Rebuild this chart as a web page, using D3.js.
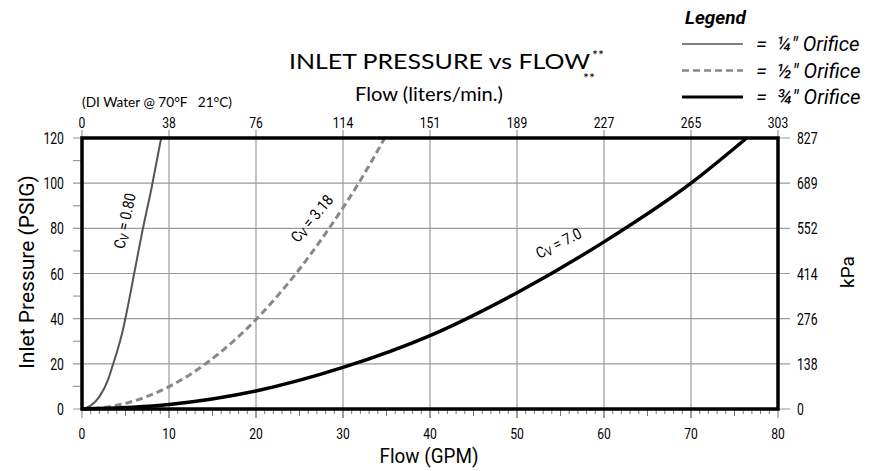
<!DOCTYPE html>
<html>
<head>
<meta charset="utf-8">
<script src="https://cdn.jsdelivr.net/npm/d3@7"></script>
<style>
  body { margin: 0; background: #fff; }
  .cond { font-family: "Roboto", "Liberation Sans", sans-serif; }
  .gill { font-family: "Lato", "Open Sans", sans-serif; }
</style>
</head>
<body>
<div id="graph"></div>
<script>
// Axis ticks
const gpmTicks = [0, 10, 20, 30, 40, 50, 60, 70, 80];
const lpmLabels = ["0", "38", "76", "114", "151", "189", "227", "265", "303"];
const psiTicks = [0, 20, 40, 60, 80, 100, 120];
const kpaLabels = ["0", "138", "276", "414", "552", "689", "827"];

// Curves: flow (GPM), pressure (PSIG)
const flowCv080 = [0, 1, 2, 3, 3.5, 4, 4.7, 5.3, 5.9, 6.9, 8, 9.1];
const psiCv080 = [0, 1.5, 5.5, 13, 19, 25, 35, 46, 58, 78, 98, 120];
const flowCv318 = [0, 2, 5, 10, 14.2, 17.4, 20.1, 22, 24.6, 28.4, 31.8, 34.8];
const psiCv318 = [0, 0.4, 2.5, 9.9, 20, 30, 40, 48, 60, 80, 100, 120];
const flowCv70 = [0, 10, 20, 30, 40, 50, 60, 70, 76.4];
const psiCv70 = [0, 2, 8, 18.4, 32.5, 51.5, 74, 100, 120];

const legendNames = ["¼", "½", "¾"];

// Chart constants
const w = 879;
const h = 471;

const svg = d3.select("#graph").append("svg")
    .attr("width", w)
    .attr("height", h);

const x = d3.scaleLinear().domain([0, 80]).range([82, 778]);
const y = d3.scaleLinear().domain([0, 120]).range([409, 138]);

// squeezed text (the original uses a condensed face)
const sq = (tx, ty, rot, sx) => `translate(${tx},${ty}) rotate(${rot}) scale(${sx},1)`;

// Gridlines (vertical), they stick out above and below the frame as ticks
svg.append("g")
    .attr("stroke", "#9a9a9a")
    .attr("stroke-width", 1.2)
    .selectAll("line")
    .data(gpmTicks.slice(1, -1))
    .join("line")
    .attr("x1", d => x(d)).attr("x2", d => x(d))
    .attr("y1", y(120) - 8).attr("y2", y(0) + 9);

// Gridlines (horizontal), sticking out left and right
svg.append("g")
    .attr("stroke", "#9a9a9a")
    .attr("stroke-width", 1.2)
    .selectAll("line")
    .data(psiTicks)
    .join("line")
    .attr("x1", x(0) - 9).attr("x2", x(80) + 12)
    .attr("y1", d => y(d)).attr("y2", d => y(d));

// Minor ticks on left side (every 10 PSIG)
svg.append("g")
    .attr("stroke", "#9a9a9a")
    .attr("stroke-width", 1.2)
    .selectAll("line")
    .data(d3.range(10, 120, 20))
    .join("line")
    .attr("x1", x(0) - 9).attr("x2", x(0))
    .attr("y1", d => y(d)).attr("y2", d => y(d));

// Minor ticks under bottom (every 1 GPM)
svg.append("g")
    .attr("stroke", "#777")
    .attr("stroke-width", 1)
    .selectAll("line")
    .data(d3.range(0, 81, 1))
    .join("line")
    .attr("x1", d => x(d)).attr("x2", d => x(d))
    .attr("y1", y(0))
    .attr("y2", d => y(0) + (d % 10 === 0 ? 9 : d % 5 === 0 ? 7 : 5));

// End ticks at 0 and 80 on top
svg.append("g")
    .attr("stroke", "#9a9a9a")
    .attr("stroke-width", 1.2)
    .selectAll("line")
    .data([0, 80])
    .join("line")
    .attr("x1", d => x(d)).attr("x2", d => x(d))
    .attr("y1", y(120) - 8).attr("y2", y(120));

// Curves
const line = d3.line()
    .x(d => x(d[0]))
    .y(d => y(d[1]))
    .curve(d3.curveMonotoneX);

svg.append("path")
    .datum(d3.zip(flowCv080, psiCv080))
    .attr("d", line)
    .attr("fill", "none")
    .attr("stroke", "#555")
    .attr("stroke-width", 2);

svg.append("path")
    .datum(d3.zip(flowCv318, psiCv318))
    .attr("d", line)
    .attr("fill", "none")
    .attr("stroke", "#888")
    .attr("stroke-width", 3)
    .attr("stroke-dasharray", "7,4");

svg.append("path")
    .datum(d3.zip(flowCv70, psiCv70))
    .attr("d", line)
    .attr("fill", "none")
    .attr("stroke", "#000")
    .attr("stroke-width", 3.5);

// Frame
svg.append("rect")
    .attr("x", x(0)).attr("y", y(120))
    .attr("width", x(80) - x(0)).attr("height", y(0) - y(120))
    .attr("fill", "none")
    .attr("stroke", "#000")
    .attr("stroke-width", 3.5);

// Tick labels
svg.append("g").attr("class", "cond")
    .attr("font-size", 15.5).attr("text-anchor", "middle")
    .selectAll("text")
    .data(gpmTicks)
    .join("text")
    .attr("transform", d => sq(x(d), 439, 0, 0.78))
    .text(d => d);

svg.append("g").attr("class", "cond")
    .attr("font-size", 15.5).attr("text-anchor", "middle")
    .selectAll("text")
    .data(gpmTicks)
    .join("text")
    .attr("transform", d => sq(x(d), 128, 0, 0.78))
    .text((d, i) => lpmLabels[i]);

svg.append("g").attr("class", "cond")
    .attr("font-size", 17).attr("text-anchor", "end")
    .selectAll("text")
    .data(psiTicks)
    .join("text")
    .attr("transform", d => sq(64, y(d) + 6, 0, 0.72))
    .text(d => d);

svg.append("g").attr("class", "cond")
    .attr("font-size", 17).attr("text-anchor", "start")
    .selectAll("text")
    .data(psiTicks)
    .join("text")
    .attr("transform", d => sq(797, y(d) + 6, 0, 0.72))
    .text((d, i) => kpaLabels[i]);

// Axis titles
svg.append("text").attr("class", "cond")
    .attr("font-size", 21).attr("text-anchor", "middle")
    .attr("transform", sq(429, 463, 0, 0.9))
    .text("Flow (GPM)");

svg.append("text").attr("class", "cond")
    .attr("font-size", 21).attr("text-anchor", "middle")
    .attr("transform", sq(34, 272, -90, 1))
    .text("Inlet Pressure (PSIG)");

svg.append("text").attr("class", "cond")
    .attr("font-size", 19).attr("text-anchor", "middle")
    .attr("transform", sq(854, 272, -90, 1))
    .text("kPa");

// Title
svg.append("text").attr("class", "gill")
    .attr("font-size", 21)
    .attr("x", 289).attr("y", 69)
    .attr("textLength", 301).attr("lengthAdjust", "spacingAndGlyphs")
    .text("INLET PRESSURE vs FLOW");
svg.append("text").attr("class", "gill")
    .attr("font-size", 14).attr("x", 592).attr("y", 60).text("**");
svg.append("text").attr("class", "gill")
    .attr("font-size", 14).attr("x", 583).attr("y", 83).text("**");

svg.append("text").attr("class", "gill")
    .attr("font-size", 20)
    .attr("x", 355).attr("y", 101)
    .attr("textLength", 148).attr("lengthAdjust", "spacingAndGlyphs")
    .text("Flow (liters/min.)");

svg.append("text").attr("class", "gill")
    .attr("font-size", 14).attr("x", 82).attr("y", 107)
    .attr("xml:space", "preserve")
    .attr("textLength", 150).attr("lengthAdjust", "spacingAndGlyphs")
    .text("(DI Water @ 70°F   21°C)");

// Curve labels
const cvLabels = [
    {t: "0.80", cx: 130, cy: 222, a: -78},
    {t: "3.18", cx: 316, cy: 222, a: -50},
    {t: "7.0", cx: 561, cy: 248, a: -27}
];
cvLabels.forEach(l => {
    const t = svg.append("text").attr("class", "cond")
        .attr("font-size", 15.5).attr("text-anchor", "middle")
        .attr("transform", sq(l.cx, l.cy, l.a, 0.88));
    t.append("tspan").text("C");
    t.append("tspan").attr("font-size", 12).attr("dy", 2).text("V");
    t.append("tspan").attr("dy", -2).text(" = " + l.t);
});

// Legend
svg.append("text").attr("class", "cond")
    .attr("font-size", 18).attr("font-weight", "bold").attr("font-style", "italic")
    .attr("transform", sq(685, 24, 0, 1.05))
    .text("Legend");

const legendStyles = [
    {stroke: "#555", width: 1.5, dash: null},
    {stroke: "#888", width: 2.5, dash: "7,4"},
    {stroke: "#000", width: 3, dash: null}
];
legendNames.forEach((n, i) => {
    const ly = 44 + i * 26.5;
    svg.append("line")
        .attr("x1", 682).attr("x2", 743).attr("y1", ly).attr("y2", ly)
        .attr("stroke", legendStyles[i].stroke)
        .attr("stroke-width", legendStyles[i].width)
        .attr("stroke-dasharray", legendStyles[i].dash);
    svg.append("text").attr("class", "cond")
        .attr("font-size", 21).attr("font-style", "italic")
        .attr("transform", sq(756, ly + 7, 0, 0.97))
        .attr("xml:space", "preserve")
        .text("=  " + n + "\u2033 Orifice");
});
</script>
</body>
</html>
